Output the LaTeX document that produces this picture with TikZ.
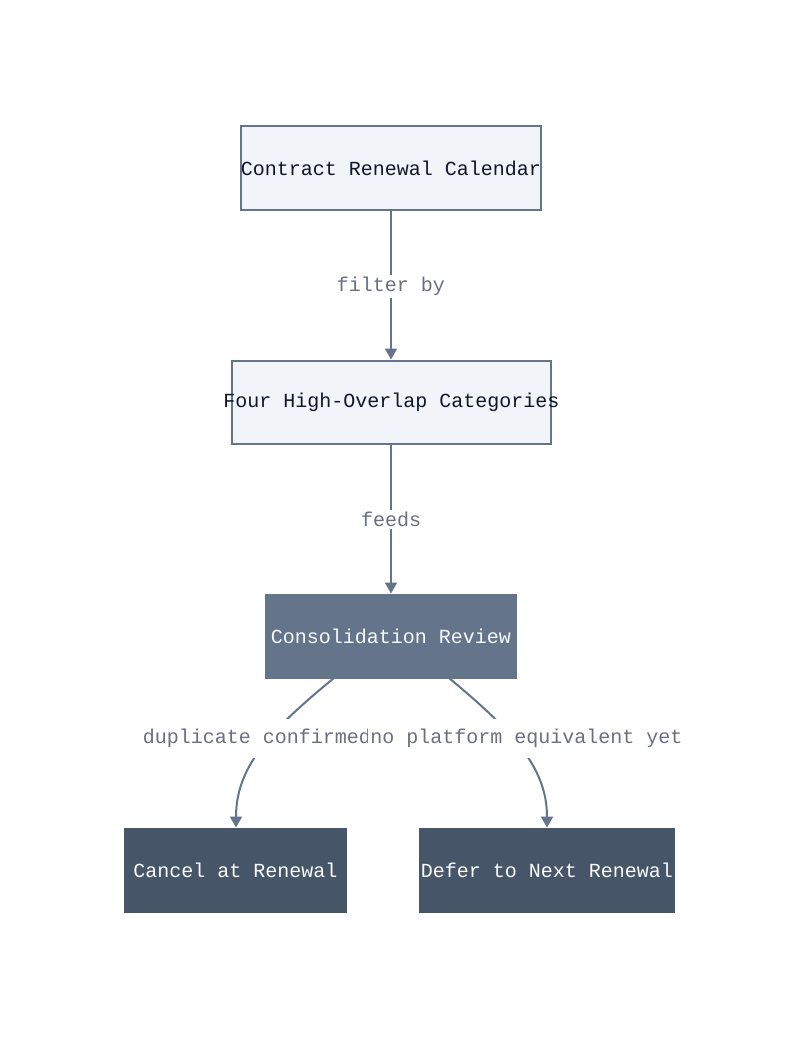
\documentclass[tikz,border=0pt]{standalone}
\usepackage{fontspec}
\setmonofont{Liberation Mono}
\usetikzlibrary{arrows.meta}
\definecolor{edgec}{HTML}{64748B}
\definecolor{lightfill}{HTML}{F1F4F9}
\definecolor{midfill}{HTML}{64748B}
\definecolor{darkfill}{HTML}{475569}
\definecolor{darktext}{HTML}{0F172A}
\definecolor{lighttext}{HTML}{F8FAFC}
\definecolor{labeltext}{HTML}{6B6F80}
\tikzset{
  box/.style={draw=edgec, line width=2pt, minimum height=83pt, inner sep=0pt, font=\ttfamily\fontsize{20}{24}\selectfont},
  lightbox/.style={box, fill=lightfill, text=darktext},
  midbox/.style={box, fill=midfill, draw=midfill, text=lighttext},
  darkbox/.style={box, fill=darkfill, draw=darkfill, text=lighttext},
  conn/.style={draw=edgec, line width=2pt, -{Triangle[width=12pt,length=11pt]}},
  elabel/.style={fill=white, text=labeltext, inner sep=2pt, font=\ttfamily\fontsize{20}{24}\selectfont}
}
\begin{document}
\begin{tikzpicture}[x=1pt,y=-1pt]
\useasboundingbox (0,0) rectangle (800,1038);
\node[lightbox, minimum width=300pt] (a) at (391,168) {\makebox[300pt][c]{Contract Renewal Calendar}};
\node[lightbox, minimum width=319pt] (b) at (391.5,402) {\makebox[319pt][c]{Four High-Overlap Categories}};
\node[midbox, minimum width=250pt] (c) at (391,636) {Consolidation Review};
\node[darkbox, minimum width=221pt] (d) at (235.5,870) {Cancel at Renewal};
\node[darkbox, minimum width=254pt] (e) at (547,870) {Defer to Next Renewal};
\draw[conn] (a.south -| 391,0) -- node[elabel, pos=0.51] {filter by} (b.north -| 391,0);
\draw[conn] (b.south -| 391,0) -- node[elabel, pos=0.505] {feeds} (c.north -| 391,0);
\coordinate (c1) at (334,678);
\coordinate (c2) at (449,678);
\draw[conn] (c1) .. controls (268,732) and (236,768) .. (d.north -| 236,0);
\draw[conn] (c2) .. controls (514,732) and (547,768) .. (e.north -| 547,0);
\node[elabel, inner ysep=10pt] (l1) at (257,738.5) {duplicate confirmed};
\node[elabel, inner ysep=10pt] (l2) at (526.5,738.5) {no platform equivalent yet};
\end{tikzpicture}
\end{document}
